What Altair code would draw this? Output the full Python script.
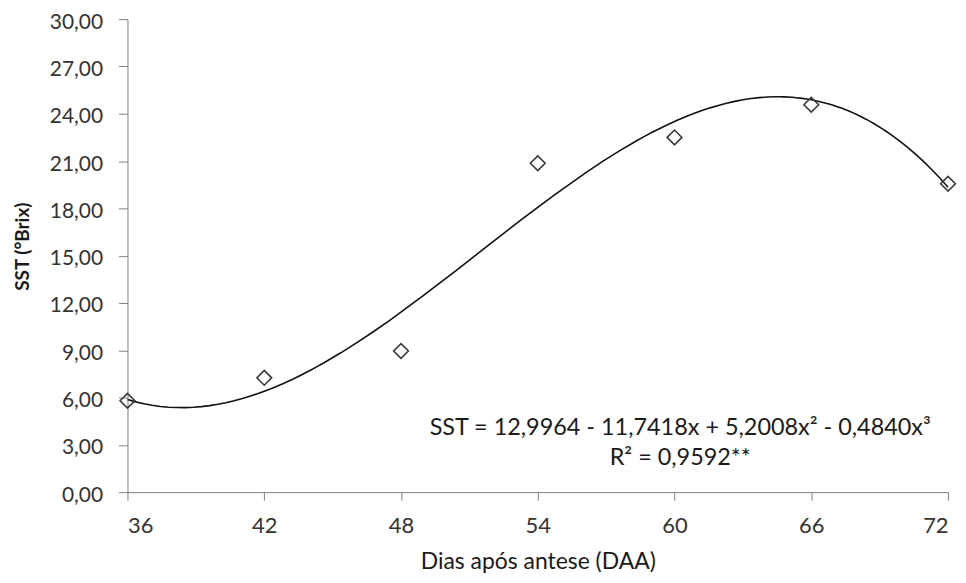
import altair as alt
import pandas as pd

# Data
dias = [36, 42, 48, 54, 60, 66, 72]
sst = [5.80, 7.25, 8.95, 20.86, 22.50, 24.57, 19.56]
x_ticks = [36, 42, 48, 54, 60, 66, 72]
y_ticks = [0, 3, 6, 9, 12, 15, 18, 21, 24, 27, 30]

eq_lines = ["SST = 12,9964 - 11,7418x + 5,2008x² - 0,4840x³", "R² = 0,9592**"]
eq_x = [60.25, 60.25]
eq_y = [3.6, 1.72]

df = pd.DataFrame({"dias": dias, "sst": sst})
ann = pd.DataFrame({"txt": eq_lines, "x": eq_x, "y": eq_y})

FONT = "Lato"
AXIS_GRAY = "#7f7f7f"
LABEL_COLOR = "#333333"

x_enc = alt.X(
    "dias:Q",
    scale=alt.Scale(domain=[36, 72], nice=False),
    axis=alt.Axis(
        values=x_ticks, title="Dias após antese (DAA)", grid=False,
        tickSize=8, labelPadding=16, tickColor=AXIS_GRAY, domainColor=AXIS_GRAY,
        labelFont=FONT, labelFontSize=22, labelColor=LABEL_COLOR,
        titleFont=FONT, titleFontSize=23, titleFontWeight="normal", titleColor="#1a1a1a",
        titleY=59, titleBaseline="top",
    ),
)
y_enc = alt.Y(
    "sst:Q",
    scale=alt.Scale(domain=[0, 30], nice=False),
    axis=alt.Axis(
        values=y_ticks, title="SST (°Brix)", grid=False,
        tickSize=9, labelPadding=16, tickColor=AXIS_GRAY, domainColor=AXIS_GRAY,
        labelFont=FONT, labelFontSize=21, labelColor=LABEL_COLOR, labelOffset=3,
        labelExpr="replace(format(datum.value, '.2f'), '.', ',')",
        titleFont=FONT, titleFontSize=19, titleFontWeight="bold", titleColor="#1a1a1a",
        titleX=-95, titleY=228,
    ),
)

base = alt.Chart(df)

points = base.mark_point(
    shape="diamond", filled=False, size=220, strokeWidth=1.6, color="#3a3a3a", opacity=1
).encode(x=x_enc, y=y_enc)

curve = base.transform_regression(
    "dias", "sst", method="poly", order=3, extent=[36, 72]
).mark_line(color="#111111", strokeWidth=1.6).encode(
    x=alt.X("dias:Q"), y=alt.Y("sst:Q")
)

text = alt.Chart(ann).mark_text(
    font=FONT, fontSize=23.5, color="#1a1a1a", align="center", baseline="alphabetic"
).encode(x=alt.X("x:Q"), y=alt.Y("y:Q"), text="txt:N")

chart = (
    alt.layer(curve, points, text)
    .properties(
        width=824, height=475,
        autosize=alt.AutoSizeParams(type="none"),
        padding={"left": 120, "top": 10, "right": 10, "bottom": 82},
        background="white",
    )
    .configure_view(stroke=None)
)

chart.save("out.html", embed_options={"renderer": "svg", "actions": False})
